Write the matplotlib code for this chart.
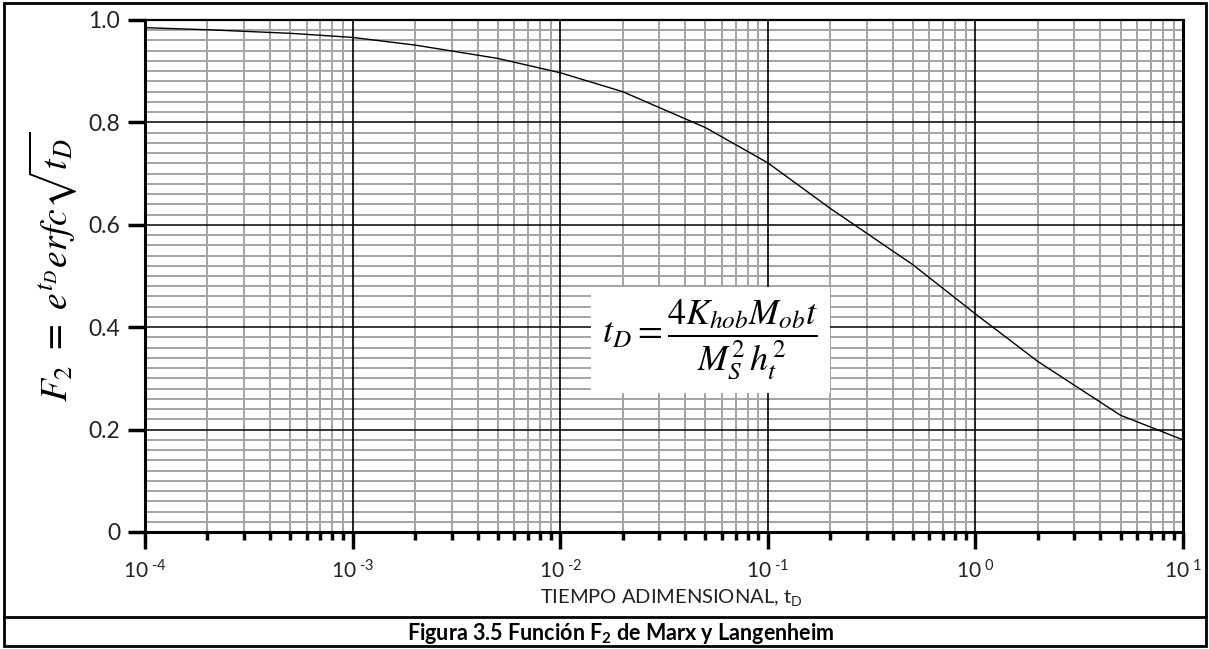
import matplotlib
matplotlib.use("Agg")
import matplotlib.pyplot as plt
import numpy as np
from matplotlib.ticker import LogLocator, MultipleLocator, FixedLocator
from matplotlib.patches import Rectangle
from matplotlib.lines import Line2D

plt.rcParams['font.family'] = ['Lato', 'DejaVu Sans']
plt.rcParams['mathtext.fontset'] = 'custom'
plt.rcParams['mathtext.rm'] = 'Lato'
plt.rcParams['mathtext.it'] = 'Lato:italic'
plt.rcParams['mathtext.bf'] = 'Lato:bold'

# curve
t_d = [1e-4, 2e-4, 5e-4, 1e-3, 2e-3, 5e-3, 1e-2, 2e-2, 5e-2,
       1e-1, 2e-1, 5e-1, 1.0, 2.0, 5.0, 10.0]
f2 = [0.985, 0.981, 0.974, 0.966, 0.951, 0.925, 0.897, 0.860, 0.790,
      0.721, 0.632, 0.522, 0.426, 0.333, 0.228, 0.180]

x_ticks = [1e-4, 1e-3, 1e-2, 1e-1, 1e0, 1e1]
x_labels = [r'$10^{\text{ -4}}$', r'$10^{\text{ -3}}$', r'$10^{\text{ -2}}$',
            r'$10^{\text{ -1}}$', r'$10^{\text{ 0}}$', r'$10^{\text{ 1}}$']
y_ticks = [0, 0.2, 0.4, 0.6, 0.8, 1.0]
y_labels = ['0', '0.2', '0.4', '0.6', '0.8', '1.0']

W, H = 1209, 649
fig = plt.figure(figsize=(W / 100, H / 100), dpi=100)
ax = fig.add_axes([145 / W, 1 - 532 / H, (1183 - 145) / W, (532 - 20) / H])

ax.set_xscale('log')
ax.set_xlim(1e-4, 10)
ax.set_ylim(0, 1)

ax.xaxis.set_major_locator(FixedLocator(x_ticks))
ax.set_xticklabels(x_labels)
ax.xaxis.set_minor_locator(LogLocator(base=10, subs=np.arange(2, 10)))
ax.xaxis.set_minor_formatter(plt.NullFormatter())
ax.yaxis.set_major_locator(FixedLocator(y_ticks))
ax.set_yticklabels(y_labels)
ax.yaxis.set_minor_locator(MultipleLocator(0.02))

# light minor grid, solid black major lines on top
ax.set_axisbelow(True)
ax.grid(which='minor', color='#a3a3a3', lw=1.4)
for x in x_ticks:
    ax.axvline(x, color='black', lw=1.2, zorder=2)
for y in y_ticks:
    ax.axhline(y, color='black', lw=1.1, zorder=2)

ax.tick_params(axis='x', which='major', direction='out', length=12, width=2.5,
               labelsize=15, pad=8, colors='black', labelcolor='#222222')
ax.tick_params(axis='x', which='minor', direction='out', length=6, width=2.5)
ax.tick_params(axis='y', which='major', direction='out', length=12, width=2.5,
               labelsize=16.5, pad=6, labelcolor='#222222')
ax.tick_params(axis='y', which='minor', length=0)

for s in ['left', 'bottom', 'right']:
    ax.spines[s].set_linewidth(2.2)
ax.spines['top'].set_linewidth(1.6)

ax.plot(t_d, f2, color='black', lw=1.0, zorder=3)

ax.text(0.545, 0.375, r'$t_D = \dfrac{4K_{hob}M_{ob}t}{M_S^2\, h_t^2}$',
        transform=ax.transAxes, ha='center', va='center', fontsize=26,
        math_fontfamily='stix', zorder=4,
        bbox=dict(facecolor='white', edgecolor='none', pad=8))

fig.text(53 / W, 1 - 267 / H, r'$F_2\ =\ e^{t_D}erfc\sqrt{t_D}$', rotation=90,
         ha='center', va='center', fontsize=27, math_fontfamily='stix')

fig.text(671 / W, 1 - 598 / H, r'TIEMPO ADIMENSIONAL, t$_\mathrm{D}$',
         ha='center', va='center', fontsize=14.5, color='#222222')

fig.text(621 / W, 1 - 633 / H, r'Figura 3.5 Función F$_\mathbf{2}$ de Marx y Langenheim',
         ha='center', va='center', fontsize=15.5, fontweight='bold')

# outer frame and caption separator
fig.patches.append(Rectangle((4 / W, 3 / H), (W - 7) / W, (H - 6) / H,
                             transform=fig.transFigure, fill=False,
                             edgecolor='black', lw=2))
fig.lines.append(Line2D([4 / W, (W - 3) / W], [1 - 617 / H, 1 - 617 / H],
                        transform=fig.transFigure, color='black', lw=2))

fig.savefig('out.png', dpi=100)
